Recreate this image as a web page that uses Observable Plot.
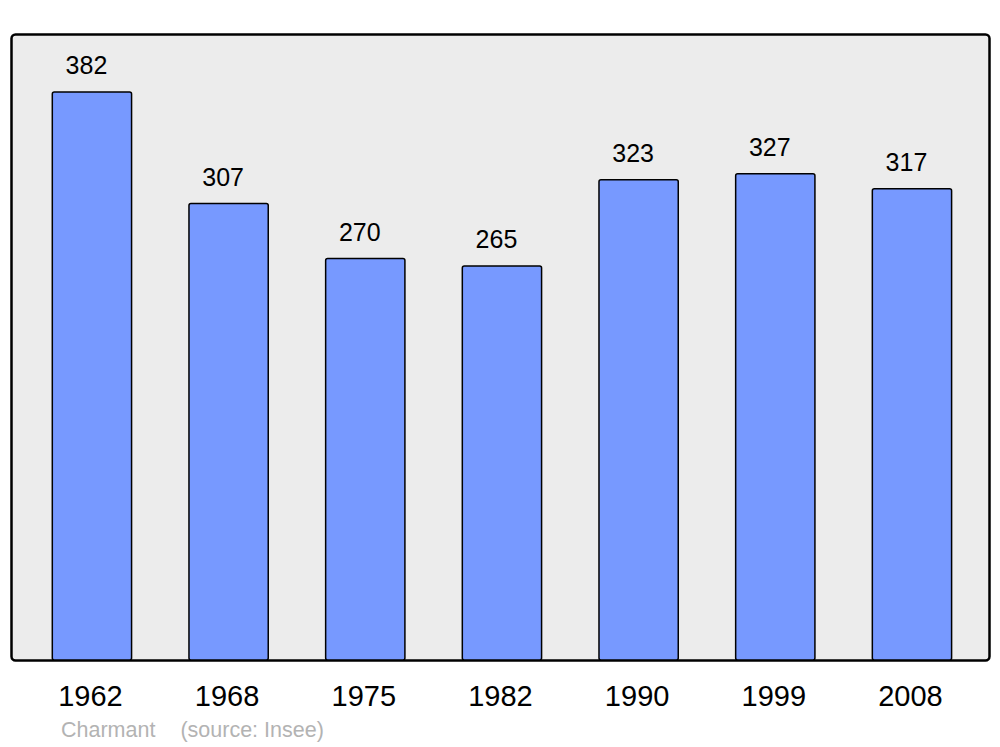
<!DOCTYPE html>
<html>
<head>
<meta charset="utf-8">
<script src="https://cdn.jsdelivr.net/npm/d3@7"></script>
<script src="https://cdn.jsdelivr.net/npm/@observablehq/plot@0.6"></script>
<style>
  body { margin: 0; background: #fff; font-family: "Liberation Sans", Arial, sans-serif; }
  #caption { margin-left: 61px; margin-top: 2px; font-size: 21.5px; color: #b3b3b3; line-height: 26px; }
  #caption span + span { margin-left: 25px; }
</style>
</head>
<body>
<div id="chart"></div>
<div id="caption"><span>Charmant</span><span>(source: Insee)</span></div>
<script>
const years = ["1962", "1968", "1975", "1982", "1990", "1999", "2008"];
const population = [382, 307, 270, 265, 323, 327, 317];

const data = years.map((y, i) => ({year: y, value: population[i]}));

const chart = Plot.plot({
  width: 1000,
  height: 715,
  marginLeft: 11,
  marginRight: 11,
  marginTop: 34,
  marginBottom: 55,
  style: {fontFamily: "Liberation Sans, Arial, sans-serif", background: "white"},
  x: {domain: years, range: [23.6, 980.3], paddingInner: 0.42, paddingOuter: 0.21, round: false, label: null},
  y: {domain: [0, 421], axis: null},
  marks: [
    Plot.frame({fill: "#ececec", stroke: "black", strokeWidth: 2.5, rx: 4}),
    Plot.barY(data, {x: "year", y: "value", fill: "#7799ff", stroke: "black", strokeWidth: 1.5, rx: 2}),
    Plot.text(data, {x: "year", y: "value", text: d => String(d.value), dy: -18, dx: -6, lineAnchor: "bottom", fontSize: 25, fill: "black"}),
    Plot.axisX({tickSize: 0, tickPadding: 25, fontSize: 29, dx: -2, color: "black"})
  ]
});
document.getElementById("chart").appendChild(chart);
</script>
</body>
</html>
